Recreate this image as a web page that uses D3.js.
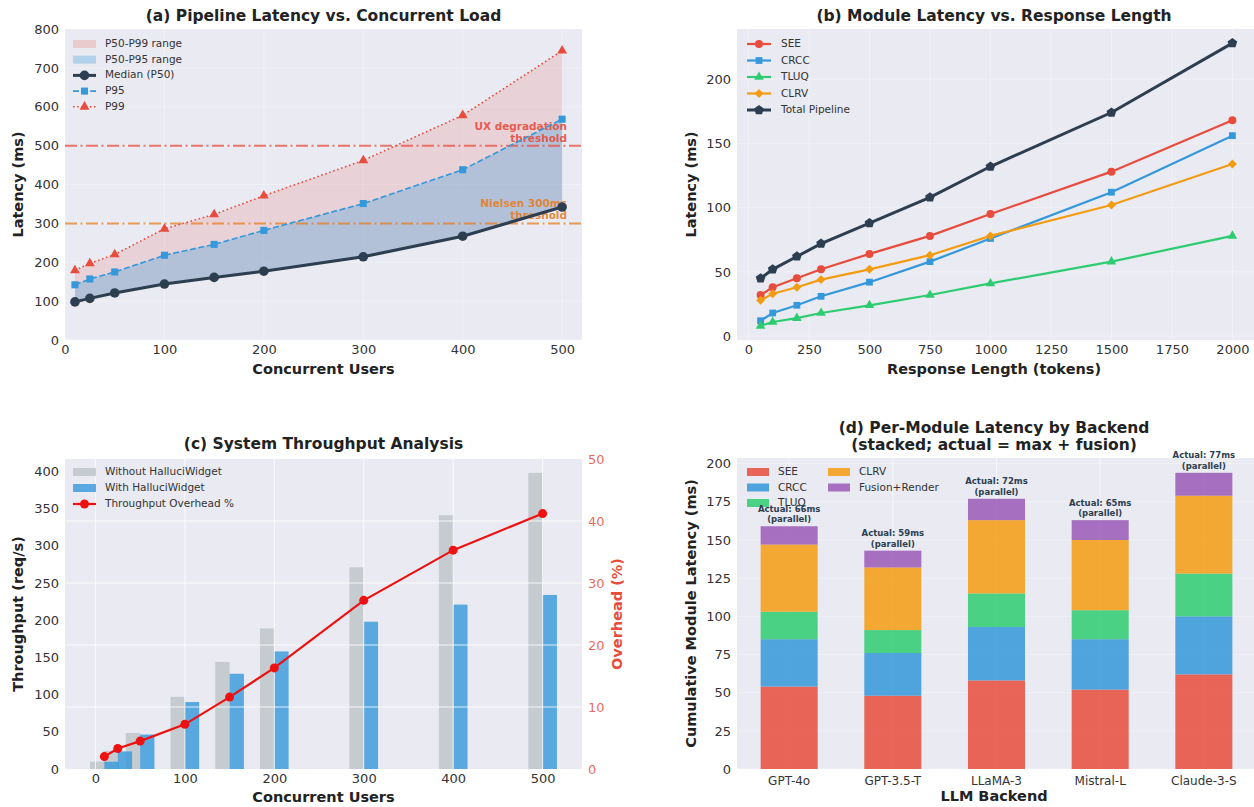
<!DOCTYPE html>
<html>
<head>
<meta charset="utf-8">
<script src="https://cdn.jsdelivr.net/npm/d3@7"></script>
<style>
	body { margin: 0; background: #ffffff; }
	text { font-family: "DejaVu Sans", sans-serif; }
</style>
</head>
<body>
<svg id="chart" width="1254" height="807"></svg>
<script>

	/* ---------------------------------
		Data
	------------------------------------*/

	// (a) pipeline latency percentiles
	var usersA = [10, 25, 50, 100, 150, 200, 300, 400, 500];
	var p50 = [98, 107, 121, 144, 161, 177, 214, 267, 342];
	var p95 = [142, 157, 175, 218, 246, 282, 351, 438, 568];
	var p99 = [179, 197, 220, 286, 323, 371, 462, 578, 744];

	// (b) module latency by response length
	var tokens = [50, 100, 200, 300, 500, 750, 1000, 1500, 2000];
	var seeLat = [32, 38, 45, 52, 64, 78, 95, 128, 168];
	var crccLat = [12, 18, 24, 31, 42, 58, 76, 112, 156];
	var tluqLat = [8, 11, 14, 18, 24, 32, 41, 58, 78];
	var clrvLat = [28, 33, 38, 44, 52, 63, 78, 102, 134];
	var totalLat = [45, 52, 62, 72, 88, 108, 132, 174, 228];

	// (c) throughput
	var usersC = [10, 25, 50, 100, 150, 200, 300, 400, 500];
	var tputWithout = [10, 24.5, 48.5, 97, 144, 189, 271, 341, 398];
	var tputWith = [9.8, 23.7, 46.3, 90, 128, 158, 198, 221, 234];
	var overheadPct = [2.0, 3.3, 4.5, 7.2, 11.6, 16.3, 27.2, 35.3, 41.2];

	// (d) per-module latency by backend
	var backends = ["GPT-4o", "GPT-3.5-T", "LLaMA-3", "Mistral-L", "Claude-3-S"];
	var modules = ["SEE", "CRCC", "TLUQ", "CLRV", "Fusion+Render"];
	var seeD = [54, 48, 58, 52, 62];
	var crccD = [31, 28, 35, 33, 38];
	var tluqD = [18, 15, 22, 19, 28];
	var clrvD = [44, 41, 48, 46, 51];
	var fusionD = [12, 11, 14, 13, 15];
	var actualMs = [66, 59, 72, 65, 77];


	/* ---------------------------------
		Shared helpers
	------------------------------------*/

	var svg = d3.select("#chart");
	var bg = "#eaeaf2";
	var textCol = "#333333";
	var tickSize = 13;
	var titleSize = 15.5;
	var labelSize = 14.5;

	var symbolPentagon = {
		draw: function(ctx, size) {
			var r = Math.sqrt(size / 2.378);
			for (var k = 0; k < 5; k++) {
				var a = -Math.PI / 2 + k * 2 * Math.PI / 5;
				if (k == 0) ctx.moveTo(r * Math.cos(a), r * Math.sin(a));
				else ctx.lineTo(r * Math.cos(a), r * Math.sin(a));
			}
			ctx.closePath();
		}
	};

	function cleanAxis(sel, size) {
		sel.select(".domain").remove();
		sel.selectAll("text")
			.attr("font-size", size || tickSize)
			.attr("fill", textCol);
	}

	function title(x, y, txt) {
		svg.append("text")
			.attr("x", x).attr("y", y)
			.attr("text-anchor", "middle")
			.attr("font-size", titleSize)
			.attr("font-weight", "bold")
			.attr("fill", "#222")
			.text(txt);
	}

	function axisLabel(x, y, txt, rotate, color) {
		svg.append("text")
			.attr("transform", "translate(" + x + "," + y + ")" + (rotate ? " rotate(-90)" : ""))
			.attr("text-anchor", "middle")
			.attr("dominant-baseline", "middle")
			.attr("font-size", labelSize)
			.attr("font-weight", "bold")
			.attr("fill", color || "#222")
			.text(txt);
	}

	function legendText(g, x, y, txt) {
		g.append("text")
			.attr("x", x).attr("y", y)
			.attr("dominant-baseline", "middle")
			.attr("font-size", 10.5)
			.attr("fill", textCol)
			.text(txt);
	}


	/* ---------------------------------
		(a) Pipeline Latency vs. Concurrent Load
	------------------------------------*/

	var aL = 65, aT = 29, aW = 517, aH = 311;
	var gA = svg.append("g").attr("transform", "translate(" + aL + "," + aT + ")");

	var xA = d3.scaleLinear().domain([0, 520]).range([0, aW]);
	var yA = d3.scaleLinear().domain([0, 800]).range([aH, 0]);

	gA.append("rect").attr("width", aW).attr("height", aH).attr("fill", bg);

	gA.selectAll(".gx").data(xA.ticks(5)).enter().append("line")
		.attr("x1", xA).attr("x2", xA).attr("y1", 0).attr("y2", aH)
		.attr("stroke", "#fff").attr("stroke-opacity", 0.3);
	gA.selectAll(".gy").data(d3.range(0, 801, 100)).enter().append("line")
		.attr("y1", yA).attr("y2", yA).attr("x1", 0).attr("x2", aW)
		.attr("stroke", "#fff").attr("stroke-opacity", 0.3);

	var rowsA = usersA.map(function(u, i) {
		return { u: u, p50: p50[i], p95: p95[i], p99: p99[i] };
	});

	var area99 = d3.area()
		.x(function(d) { return xA(d.u); })
		.y0(function(d) { return yA(d.p50); })
		.y1(function(d) { return yA(d.p99); });
	var area95 = d3.area()
		.x(function(d) { return xA(d.u); })
		.y0(function(d) { return yA(d.p50); })
		.y1(function(d) { return yA(d.p95); });

	gA.append("path").datum(rowsA).attr("d", area99)
		.attr("fill", "#e74c3c").attr("fill-opacity", 0.15);
	gA.append("path").datum(rowsA).attr("d", area95)
		.attr("fill", "#3498db").attr("fill-opacity", 0.3);

	// thresholds
	gA.append("line")
		.attr("x1", 0).attr("x2", aW).attr("y1", yA(500)).attr("y2", yA(500))
		.attr("stroke", "#e74c3c").attr("stroke-width", 2).attr("stroke-opacity", 0.75)
		.attr("stroke-dasharray", "12,3.5,2,3.5");
	gA.append("line")
		.attr("x1", 0).attr("x2", aW).attr("y1", yA(300)).attr("y2", yA(300))
		.attr("stroke", "#e67e22").attr("stroke-width", 2).attr("stroke-opacity", 0.75)
		.attr("stroke-dasharray", "12,3.5,2,3.5");

	var thrText = [
		{ y: yA(500) - 16, t: "UX degradation", c: "#e74c3c" },
		{ y: yA(500) - 4, t: "threshold", c: "#e74c3c" },
		{ y: yA(300) - 16, t: "Nielsen 300ms", c: "#e67e22" },
		{ y: yA(300) - 4, t: "threshold", c: "#e67e22" }
	];
	gA.selectAll(".thr").data(thrText).enter().append("text")
		.attr("x", 502).attr("y", function(d) { return d.y; })
		.attr("text-anchor", "end")
		.attr("font-size", 10.5).attr("font-weight", "bold")
		.attr("fill", function(d) { return d.c; }).attr("fill-opacity", 0.9)
		.text(function(d) { return d.t; });

	function lineA(key) {
		return d3.line()
			.x(function(d) { return xA(d.u); })
			.y(function(d) { return yA(d[key]); });
	}

	gA.append("path").datum(rowsA).attr("d", lineA("p99"))
		.attr("fill", "none").attr("stroke", "#e74c3c").attr("stroke-width", 1.6)
		.attr("stroke-dasharray", "1.6,2.6");
	gA.selectAll(".m99").data(rowsA).enter().append("path")
		.attr("d", d3.symbol(d3.symbolTriangle, 42))
		.attr("transform", function(d) { return "translate(" + xA(d.u) + "," + yA(d.p99) + ")"; })
		.attr("fill", "#e74c3c");

	gA.append("path").datum(rowsA).attr("d", lineA("p95"))
		.attr("fill", "none").attr("stroke", "#3498db").attr("stroke-width", 1.6)
		.attr("stroke-dasharray", "6,2.6");
	gA.selectAll(".m95").data(rowsA).enter().append("path")
		.attr("d", d3.symbol(d3.symbolSquare, 50))
		.attr("transform", function(d) { return "translate(" + xA(d.u) + "," + yA(d.p95) + ")"; })
		.attr("fill", "#3498db");

	gA.append("path").datum(rowsA).attr("d", lineA("p50"))
		.attr("fill", "none").attr("stroke", "#2c3e50").attr("stroke-width", 3);
	gA.selectAll(".m50").data(rowsA).enter().append("circle")
		.attr("cx", function(d) { return xA(d.u); })
		.attr("cy", function(d) { return yA(d.p50); })
		.attr("r", 4.8).attr("fill", "#2c3e50");

	gA.append("g").attr("transform", "translate(0," + aH + ")")
		.call(d3.axisBottom(xA).ticks(5).tickSize(0).tickPadding(5))
		.call(cleanAxis);
	gA.append("g")
		.call(d3.axisLeft(yA).tickValues(d3.range(0, 801, 100)).tickSize(0).tickPadding(6))
		.call(cleanAxis);

	// legend (a)
	var legA = gA.append("g").attr("transform", "translate(8,15)");
	legA.append("rect").attr("x", 0).attr("y", -4).attr("width", 23).attr("height", 8)
		.attr("fill", "#e74c3c").attr("fill-opacity", 0.2);
	legendText(legA, 32, 0, "P50-P99 range");
	legA.append("rect").attr("x", 0).attr("y", 11.7).attr("width", 23).attr("height", 8)
		.attr("fill", "#3498db").attr("fill-opacity", 0.3);
	legendText(legA, 32, 15.7, "P50-P95 range");
	legA.append("line").attr("x1", 0).attr("x2", 23).attr("y1", 31.4).attr("y2", 31.4)
		.attr("stroke", "#2c3e50").attr("stroke-width", 3);
	legA.append("circle").attr("cx", 11.5).attr("cy", 31.4).attr("r", 4.8).attr("fill", "#2c3e50");
	legendText(legA, 32, 31.4, "Median (P50)");
	legA.append("line").attr("x1", 0).attr("x2", 23).attr("y1", 47.1).attr("y2", 47.1)
		.attr("stroke", "#3498db").attr("stroke-width", 1.6).attr("stroke-dasharray", "6,2.6");
	legA.append("path").attr("d", d3.symbol(d3.symbolSquare, 50))
		.attr("transform", "translate(11.5,47.1)").attr("fill", "#3498db");
	legendText(legA, 32, 47.1, "P95");
	legA.append("line").attr("x1", 0).attr("x2", 23).attr("y1", 62.8).attr("y2", 62.8)
		.attr("stroke", "#e74c3c").attr("stroke-width", 1.6).attr("stroke-dasharray", "1.6,2.6");
	legA.append("path").attr("d", d3.symbol(d3.symbolTriangle, 42))
		.attr("transform", "translate(11.5,62.8)").attr("fill", "#e74c3c");
	legendText(legA, 32, 62.8, "P99");

	title(aL + aW / 2, 21, "(a) Pipeline Latency vs. Concurrent Load");
	axisLabel(aL + aW / 2, 370, "Concurrent Users");
	axisLabel(19, aT + aH / 2, "Latency (ms)", true);


	/* ---------------------------------
		(b) Module Latency vs. Response Length
	------------------------------------*/

	var bL = 737, bT = 29, bW = 519, bH = 311;
	var gB = svg.append("g").attr("transform", "translate(" + bL + "," + bT + ")");

	var xB = d3.scaleLinear().domain([-47.5, 2097.5]).range([0, bW]);
	var yB = d3.scaleLinear().domain([-3, 239]).range([bH, 0]);

	gB.append("rect").attr("width", bW).attr("height", bH).attr("fill", bg);

	var xTicksB = d3.range(0, 2001, 250);
	gB.selectAll(".gx").data(xTicksB).enter().append("line")
		.attr("x1", xB).attr("x2", xB).attr("y1", 0).attr("y2", bH)
		.attr("stroke", "#fff").attr("stroke-opacity", 0.3);
	gB.selectAll(".gy").data(d3.range(0, 201, 50)).enter().append("line")
		.attr("y1", yB).attr("y2", yB).attr("x1", 0).attr("x2", bW)
		.attr("stroke", "#fff").attr("stroke-opacity", 0.3);

	var seriesB = [
		{ name: "SEE", values: seeLat, color: "#e74c3c", sym: d3.symbolCircle, size: 50, rot: 0, w: 2.2 },
		{ name: "CRCC", values: crccLat, color: "#3498db", sym: d3.symbolSquare, size: 46, rot: 0, w: 2.2 },
		{ name: "TLUQ", values: tluqLat, color: "#2ecc71", sym: d3.symbolTriangle, size: 40, rot: 0, w: 2.2 },
		{ name: "CLRV", values: clrvLat, color: "#f39c12", sym: d3.symbolSquare, size: 40, rot: 45, w: 2.2 },
		{ name: "Total Pipeline", values: totalLat, color: "#2c3e50", sym: symbolPentagon, size: 62, rot: 0, w: 3 }
	];

	var lineB = d3.line()
		.x(function(d, i) { return xB(tokens[i]); })
		.y(function(d) { return yB(d); });

	seriesB.forEach(function(s) {
		gB.append("path").datum(s.values).attr("d", lineB)
			.attr("fill", "none").attr("stroke", s.color).attr("stroke-width", s.w);
		gB.selectAll(null).data(s.values).enter().append("path")
			.attr("d", d3.symbol(s.sym, s.size))
			.attr("transform", function(d, i) {
				return "translate(" + xB(tokens[i]) + "," + yB(d) + ") rotate(" + s.rot + ")";
			})
			.attr("fill", s.color);
	});

	gB.append("g").attr("transform", "translate(0," + bH + ")")
		.call(d3.axisBottom(xB).tickValues(xTicksB).tickFormat(d3.format("d")).tickSize(0).tickPadding(5))
		.call(cleanAxis);
	gB.append("g")
		.call(d3.axisLeft(yB).tickValues(d3.range(0, 201, 50)).tickSize(0).tickPadding(6))
		.call(cleanAxis);

	var legB = gB.append("g").attr("transform", "translate(10,15)");
	seriesB.forEach(function(s, i) {
		var yy = i * 16.5;
		legB.append("line").attr("x1", 0).attr("x2", 24).attr("y1", yy).attr("y2", yy)
			.attr("stroke", s.color).attr("stroke-width", s.w);
		legB.append("path").attr("d", d3.symbol(s.sym, s.size))
			.attr("transform", "translate(12," + yy + ") rotate(" + s.rot + ")")
			.attr("fill", s.color);
		legendText(legB, 34, yy, s.name);
	});

	title(bL + 257, 21, "(b) Module Latency vs. Response Length");
	axisLabel(bL + 257, 370, "Response Length (tokens)");
	axisLabel(692, bT + bH / 2, "Latency (ms)", true);


	/* ---------------------------------
		(c) System Throughput Analysis
	------------------------------------*/

	var cL = 65, cT = 459, cW = 517, cH = 310;
	var gC = svg.append("g").attr("transform", "translate(" + cL + "," + cT + ")");

	var xC = d3.scaleLinear().domain([-34, 544]).range([0, cW]);
	var yC = d3.scaleLinear().domain([0, 416.7]).range([cH, 0]);
	var yC2 = d3.scaleLinear().domain([0, 50]).range([cH, 0]);
	var barW = 16;

	gC.append("rect").attr("width", cW).attr("height", cH).attr("fill", bg);

	var rowsC = usersC.map(function(u, i) {
		return { u: u, without: tputWithout[i], with: tputWith[i], ovh: overheadPct[i] };
	});

	gC.selectAll(".bw").data(rowsC).enter().append("rect")
		.attr("x", function(d) { return xC(d.u - barW); })
		.attr("width", xC(barW) - xC(0))
		.attr("y", function(d) { return yC(d.without); })
		.attr("height", function(d) { return cH - yC(d.without); })
		.attr("fill", "#bdc3c7").attr("fill-opacity", 0.8);
	gC.selectAll(".bh").data(rowsC).enter().append("rect")
		.attr("x", function(d) { return xC(d.u); })
		.attr("width", xC(barW) - xC(0))
		.attr("y", function(d) { return yC(d.with); })
		.attr("height", function(d) { return cH - yC(d.with); })
		.attr("fill", "#3498db").attr("fill-opacity", 0.8);

	// twin-axis grid sits over the bars
	gC.selectAll(".gx").data(d3.range(0, 501, 100)).enter().append("line")
		.attr("x1", xC).attr("x2", xC).attr("y1", 0).attr("y2", cH)
		.attr("stroke", "#fff").attr("stroke-opacity", 0.8);
	gC.selectAll(".gy").data(d3.range(10, 41, 10)).enter().append("line")
		.attr("y1", yC2).attr("y2", yC2).attr("x1", 0).attr("x2", cW)
		.attr("stroke", "#fff").attr("stroke-opacity", 0.8);

	gC.append("path").datum(rowsC)
		.attr("d", d3.line()
			.x(function(d) { return xC(d.u); })
			.y(function(d) { return yC2(d.ovh); }))
		.attr("fill", "none").attr("stroke", "#ee1111").attr("stroke-width", 2.2);
	gC.selectAll(".mo").data(rowsC).enter().append("circle")
		.attr("cx", function(d) { return xC(d.u); })
		.attr("cy", function(d) { return yC2(d.ovh); })
		.attr("r", 4.5).attr("fill", "#ee1111");

	gC.append("g").attr("transform", "translate(0," + cH + ")")
		.call(d3.axisBottom(xC).tickValues(d3.range(0, 501, 100)).tickSize(0).tickPadding(5))
		.call(cleanAxis);
	gC.append("g")
		.call(d3.axisLeft(yC).tickValues(d3.range(0, 401, 50)).tickSize(0).tickPadding(6))
		.call(cleanAxis);
	gC.append("g").attr("transform", "translate(" + cW + ",0)")
		.call(d3.axisRight(yC2).tickValues(d3.range(0, 51, 10)).tickSize(0).tickPadding(6))
		.call(cleanAxis)
		.selectAll("text").attr("fill", "#e74c3c").attr("fill-opacity", 0.85);

	var legC = gC.append("g").attr("transform", "translate(8,13)");
	legC.append("rect").attr("x", 0).attr("y", -4).attr("width", 23).attr("height", 8)
		.attr("fill", "#bdc3c7").attr("fill-opacity", 0.8);
	legendText(legC, 32, 0, "Without HalluciWidget");
	legC.append("rect").attr("x", 0).attr("y", 12).attr("width", 23).attr("height", 8)
		.attr("fill", "#3498db").attr("fill-opacity", 0.8);
	legendText(legC, 32, 16, "With HalluciWidget");
	legC.append("line").attr("x1", 0).attr("x2", 23).attr("y1", 32).attr("y2", 32)
		.attr("stroke", "#ee1111").attr("stroke-width", 2.2);
	legC.append("circle").attr("cx", 11.5).attr("cy", 32).attr("r", 4.5).attr("fill", "#ee1111");
	legendText(legC, 32, 32, "Throughput Overhead %");

	title(cL + cW / 2, 449, "(c) System Throughput Analysis");
	axisLabel(cL + cW / 2, 798, "Concurrent Users");
	axisLabel(19, cT + cH / 2, "Throughput (req/s)", true);
	axisLabel(618, cT + cH / 2, "Overhead (%)", true, "#e74c3c");


	/* ---------------------------------
		(d) Per-Module Latency by Backend
	------------------------------------*/

	var dL = 737, dT = 458, dW = 519, dH = 311;
	var gD = svg.append("g").attr("transform", "translate(" + dL + "," + dT + ")");

	var xD = d3.scaleBand().domain(backends).range([0, dW])
		.paddingInner(0.45).paddingOuter(0.228);
	var yD = d3.scaleLinear().domain([0, 203.7]).range([dH, 0]);
	var colorD = d3.scaleOrdinal().domain(modules)
		.range(["#e74c3c", "#3498db", "#2ecc71", "#f39c12", "#9b59b6"]);

	gD.append("rect").attr("width", dW).attr("height", dH).attr("fill", bg);

	gD.selectAll(".gx").data(backends).enter().append("line")
		.attr("x1", function(d) { return xD(d) + xD.bandwidth() / 2; })
		.attr("x2", function(d) { return xD(d) + xD.bandwidth() / 2; })
		.attr("y1", 0).attr("y2", dH)
		.attr("stroke", "#fff").attr("stroke-opacity", 0.6);
	gD.selectAll(".gy").data(d3.range(0, 201, 25)).enter().append("line")
		.attr("y1", yD).attr("y2", yD).attr("x1", 0).attr("x2", dW)
		.attr("stroke", "#fff").attr("stroke-opacity", 0.3);

	var rowsD = backends.map(function(b, i) {
		return {
			backend: b, "SEE": seeD[i], "CRCC": crccD[i], "TLUQ": tluqD[i],
			"CLRV": clrvD[i], "Fusion+Render": fusionD[i], actual: actualMs[i]
		};
	});

	var stacked = d3.stack().keys(modules)(rowsD);

	gD.selectAll(".layer").data(stacked).enter().append("g")
		.attr("fill", function(d) { return colorD(d.key); })
		.attr("fill-opacity", 0.85)
		.selectAll("rect").data(function(d) { return d; }).enter().append("rect")
		.attr("x", function(d) { return xD(d.data.backend); })
		.attr("width", xD.bandwidth())
		.attr("y", function(d) { return yD(d[1]); })
		.attr("height", function(d) { return yD(d[0]) - yD(d[1]); });

	gD.append("g").attr("transform", "translate(0," + dH + ")")
		.call(d3.axisBottom(xD).tickSize(0).tickPadding(7))
		.call(cleanAxis, 12);
	gD.append("g")
		.call(d3.axisLeft(yD).tickValues(d3.range(0, 201, 25)).tickSize(0).tickPadding(6))
		.call(cleanAxis);

	// legend (d), two columns
	var legD = gD.append("g").attr("transform", "translate(10,14)");
	modules.forEach(function(m, i) {
		var col = i < 3 ? 0 : 1;
		var row = i < 3 ? i : i - 3;
		var lx = col * 81, ly = row * 15.5;
		legD.append("rect").attr("x", lx).attr("y", ly - 4).attr("width", 22).attr("height", 8)
			.attr("fill", colorD(m)).attr("fill-opacity", 0.85);
		legendText(legD, lx + 31, ly, m);
	});

	// "actual" annotations above each stack
	var totals = rowsD.map(function(d) {
		return d3.sum(modules, function(m) { return d[m]; });
	});
	rowsD.forEach(function(d, i) {
		var cx = xD(d.backend) + xD.bandwidth() / 2;
		var top = yD(totals[i]);
		var t = gD.append("text")
			.attr("text-anchor", "middle")
			.attr("font-size", 8.5).attr("font-weight", "bold")
			.attr("fill", "#2c3e50");
		t.append("tspan").attr("x", cx).attr("y", top - 14.5).text("Actual: " + d.actual + "ms");
		t.append("tspan").attr("x", cx).attr("y", top - 4).text("(parallel)");
	});

	svg.append("text")
		.attr("x", dL + 257).attr("y", 433)
		.attr("text-anchor", "middle").attr("font-size", titleSize).attr("font-weight", "bold").attr("fill", "#222")
		.text("(d) Per-Module Latency by Backend");
	svg.append("text")
		.attr("x", dL + 257).attr("y", 450)
		.attr("text-anchor", "middle").attr("font-size", titleSize).attr("font-weight", "bold").attr("fill", "#222")
		.text("(stacked; actual = max + fusion)");
	axisLabel(dL + 257, 797, "LLM Backend");
	axisLabel(692, dT + dH / 2, "Cumulative Module Latency (ms)", true);

</script>
</body>
</html>
